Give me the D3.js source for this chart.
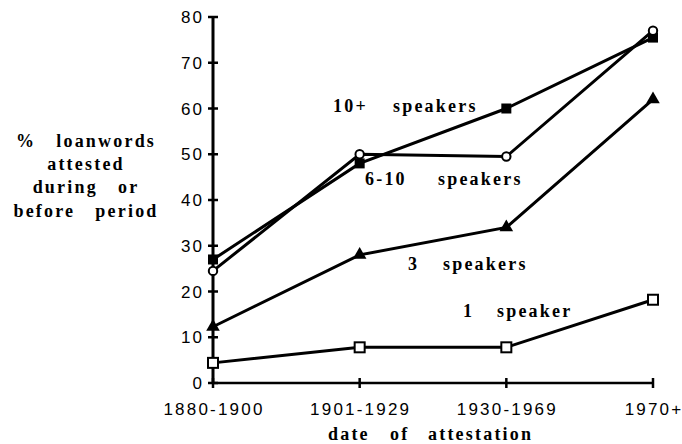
<!DOCTYPE html>
<html><head><meta charset="utf-8">
<script src="https://cdn.jsdelivr.net/npm/d3@7"></script>
<style>
body{margin:0;background:#fff;}
.serif{font-family:"Liberation Serif","DejaVu Serif",serif;font-weight:bold;}
.sans{font-family:"Liberation Sans",Arial,sans-serif;}
.pre{white-space:pre;}
</style></head>
<body>
<svg id="c" width="682" height="444"></svg>
<script>
const periods = ["1880-1900","1901-1929","1930-1969","1970+"];
const yTicks = [0,10,20,30,40,50,60,70,80];
const s10plus = [27, 48, 60, 75.5];
const s6to10 = [24.5, 50, 49.5, 77];
const s3 = [12.3, 28, 34, 62];
const s1 = [4.4, 7.8, 7.8, 18.2];
const seriesNames = ["10+ speakers","6-10 speakers","3 speakers","1 speaker"];
const yTitleLines = ["%   loanwords","attested","during   or","before   period"];
const xTitleWords = ["date","of","attestation"];

const svg = d3.select("#c");
const x = d3.scalePoint().domain(periods).range([213, 653]);
const y = d3.scaleLinear().domain([0,80]).range([383, 17]);

// axes
const ax = svg.append("g");
ax.append("line").attr("x1",213).attr("x2",653).attr("y1",y(0)).attr("y2",y(0)).attr("stroke","#000").attr("stroke-width",2.5);
ax.append("line").attr("x1",213).attr("x2",213).attr("y1",y(0)).attr("y2",y(80)).attr("stroke","#000").attr("stroke-width",3);
yTicks.forEach(t=>{
  ax.append("line").attr("x1",208).attr("x2",218).attr("y1",y(t)).attr("y2",y(t)).attr("stroke","#000").attr("stroke-width",2.5);
  ax.append("text").attr("class","sans").attr("x",204).attr("y",y(t)+6).attr("text-anchor","end").attr("font-size",17).attr("letter-spacing",2).text(t);
});
periods.forEach(p=>{
  ax.append("line").attr("x1",x(p)).attr("x2",x(p)).attr("y1",y(0)-5).attr("y2",y(0)+5).attr("stroke","#000").attr("stroke-width",2.5);
  ax.append("text").attr("class","sans").attr("x",x(p)+1).attr("y",415).attr("text-anchor","middle").attr("font-size",17).attr("letter-spacing",2.2).text(p);
});
// x title words
const xtPos = [328,390,428];
xTitleWords.forEach((w,i)=>svg.append("text").attr("class","serif").attr("x",xtPos[i]).attr("y",440).attr("font-size",18).attr("letter-spacing",2.2).text(w));

// y title
const ylY = [147,170,193,217];
yTitleLines.forEach((t,i)=>svg.append("text").attr("class","serif pre").attr("x",86).attr("y",ylY[i]).attr("text-anchor","middle").attr("font-size",18).attr("letter-spacing",2.2).text(t));

const line = d3.line().x((d,i)=>x(periods[i])).y(d=>y(d));
const allSeries = [s10plus, s6to10, s3, s1];
allSeries.forEach(s=>{
  svg.append("path").attr("d",line(s)).attr("fill","none").attr("stroke","#000").attr("stroke-width",3);
});

// markers
const g = svg.append("g");
s10plus.forEach((v,i)=>g.append("rect").attr("x",x(periods[i])-5).attr("y",y(v)-5).attr("width",10).attr("height",10).attr("fill","#000"));
s6to10.forEach((v,i)=>g.append("circle").attr("cx",x(periods[i])).attr("cy",y(v)).attr("r",4.2).attr("fill","#fff").attr("stroke","#000").attr("stroke-width",2));
const tri = d3.symbol().type(d3.symbolTriangle).size(80);
s3.forEach((v,i)=>g.append("path").attr("d",tri()).attr("transform",`translate(${x(periods[i])},${y(v)})`).attr("fill","#000"));
s1.forEach((v,i)=>g.append("rect").attr("x",x(periods[i])-5).attr("y",y(v)-5).attr("width",10).attr("height",10).attr("fill","#fff").attr("stroke","#000").attr("stroke-width",2));

// series labels: number part and word part
const numPos = [[333,112],[365,185],[408,270],[463,317]];
const wordPos = [[393,112],[438,185],[443,270],[497,317]];
seriesNames.forEach((t,i)=>{
  const [n,w] = t.split(" ");
  svg.append("text").attr("class","serif").attr("x",numPos[i][0]).attr("y",numPos[i][1]).attr("font-size",18).attr("letter-spacing",2.2).text(n);
  svg.append("text").attr("class","serif").attr("x",wordPos[i][0]).attr("y",wordPos[i][1]).attr("font-size",18).attr("letter-spacing",2.2).text(w);
});
</script>
</body></html>
